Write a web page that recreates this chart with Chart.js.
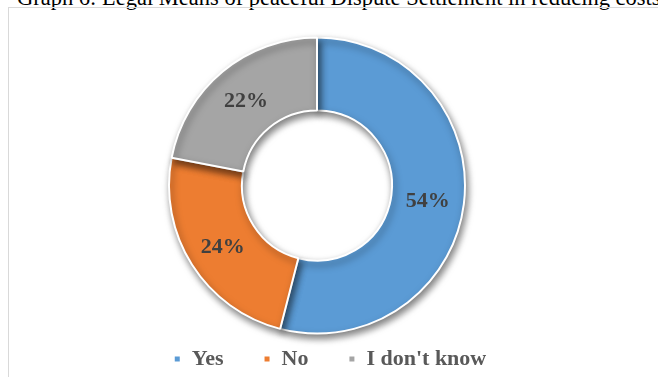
<!DOCTYPE html>
<html>
<head>
<meta charset="utf-8">
<script src="https://cdn.jsdelivr.net/npm/chart.js@4/dist/chart.umd.min.js"></script>
<style>
  html, body { margin: 0; padding: 0; background: #fff; overflow: hidden; }
  body { width: 658px; height: 377px; position: relative; }
  #title {
    position: absolute; left: 17px; top: -13px; white-space: nowrap; line-height: 1;
    font-family: "Liberation Serif", "Times New Roman", serif; font-size: 22.5px; color: #000;
  }
  #frame {
    position: absolute; left: 8px; top: 7px; width: 700px; height: 420px;
    border: 1px solid #d9d9d9; box-sizing: border-box;
  }
  #wrap { position: absolute; left: 22px; top: 8px; width: 616px; height: 372px; }
</style>
</head>
<body>
<div id="title">Graph 6: Legal Means of peaceful Dispute Settlement in reducing costs</div>
<div id="frame"></div>
<div id="wrap"><canvas id="chart"></canvas></div>
<script>
const categories = ["Yes", "No", "I don't know"];
const shares = [54, 24, 22];
const sliceColors = ["#5B9BD5", "#ED7D31", "#A5A5A5"];

// soft drop shadow under each slice
const sliceShadow = {
  id: 'sliceShadow',
  beforeDatasetDraw(chart) {
    const ctx = chart.ctx;
    ctx.save();
    ctx.shadowColor = 'rgba(0,0,0,0.5)';
    ctx.shadowBlur = 7;
    ctx.shadowOffsetX = 2;
    ctx.shadowOffsetY = 4;
  },
  afterDatasetDraw(chart) {
    chart.ctx.restore();
  }
};

// percentage labels in the middle of each ring segment
const sliceLabels = {
  id: 'sliceLabels',
  afterDatasetsDraw(chart) {
    const ctx = chart.ctx;
    const meta = chart.getDatasetMeta(0);
    ctx.save();
    ctx.font = 'bold 22px "Liberation Serif", "Times New Roman", serif';
    ctx.fillStyle = '#404040';
    ctx.textAlign = 'center';
    ctx.textBaseline = 'middle';
    meta.data.forEach((arc, i) => {
      const p = arc.tooltipPosition();
      ctx.fillText(shares[i] + '%', p.x, p.y + 2);
    });
    ctx.restore();
  }
};

new Chart(document.getElementById('chart'), {
  type: 'doughnut',
  data: {
    labels: categories,
    datasets: [{
      data: shares,
      backgroundColor: sliceColors,
      borderColor: '#ffffff',
      borderWidth: 2,
      radius: 148
    }]
  },
  options: {
    responsive: true,
    maintainAspectRatio: false,
    animation: false,
    cutout: '50.7%',
    layout: { padding: { top: 55, bottom: 0 } },
    plugins: {
      tooltip: { enabled: false },
      // empty side box: keeps the ring a little left of the centred legend
      title: {
        display: true,
        text: '',
        position: 'right',
        font: { size: 10 },
        padding: 7
      },
      legend: {
        position: 'bottom',
        labels: {
          boxWidth: 7,
          boxHeight: 7,
          padding: 40,
          color: '#595959',
          font: { family: '"Liberation Serif", "Times New Roman", serif', size: 22, weight: 'bold' }
        }
      }
    }
  },
  plugins: [sliceShadow, sliceLabels]
});
</script>
</body>
</html>
